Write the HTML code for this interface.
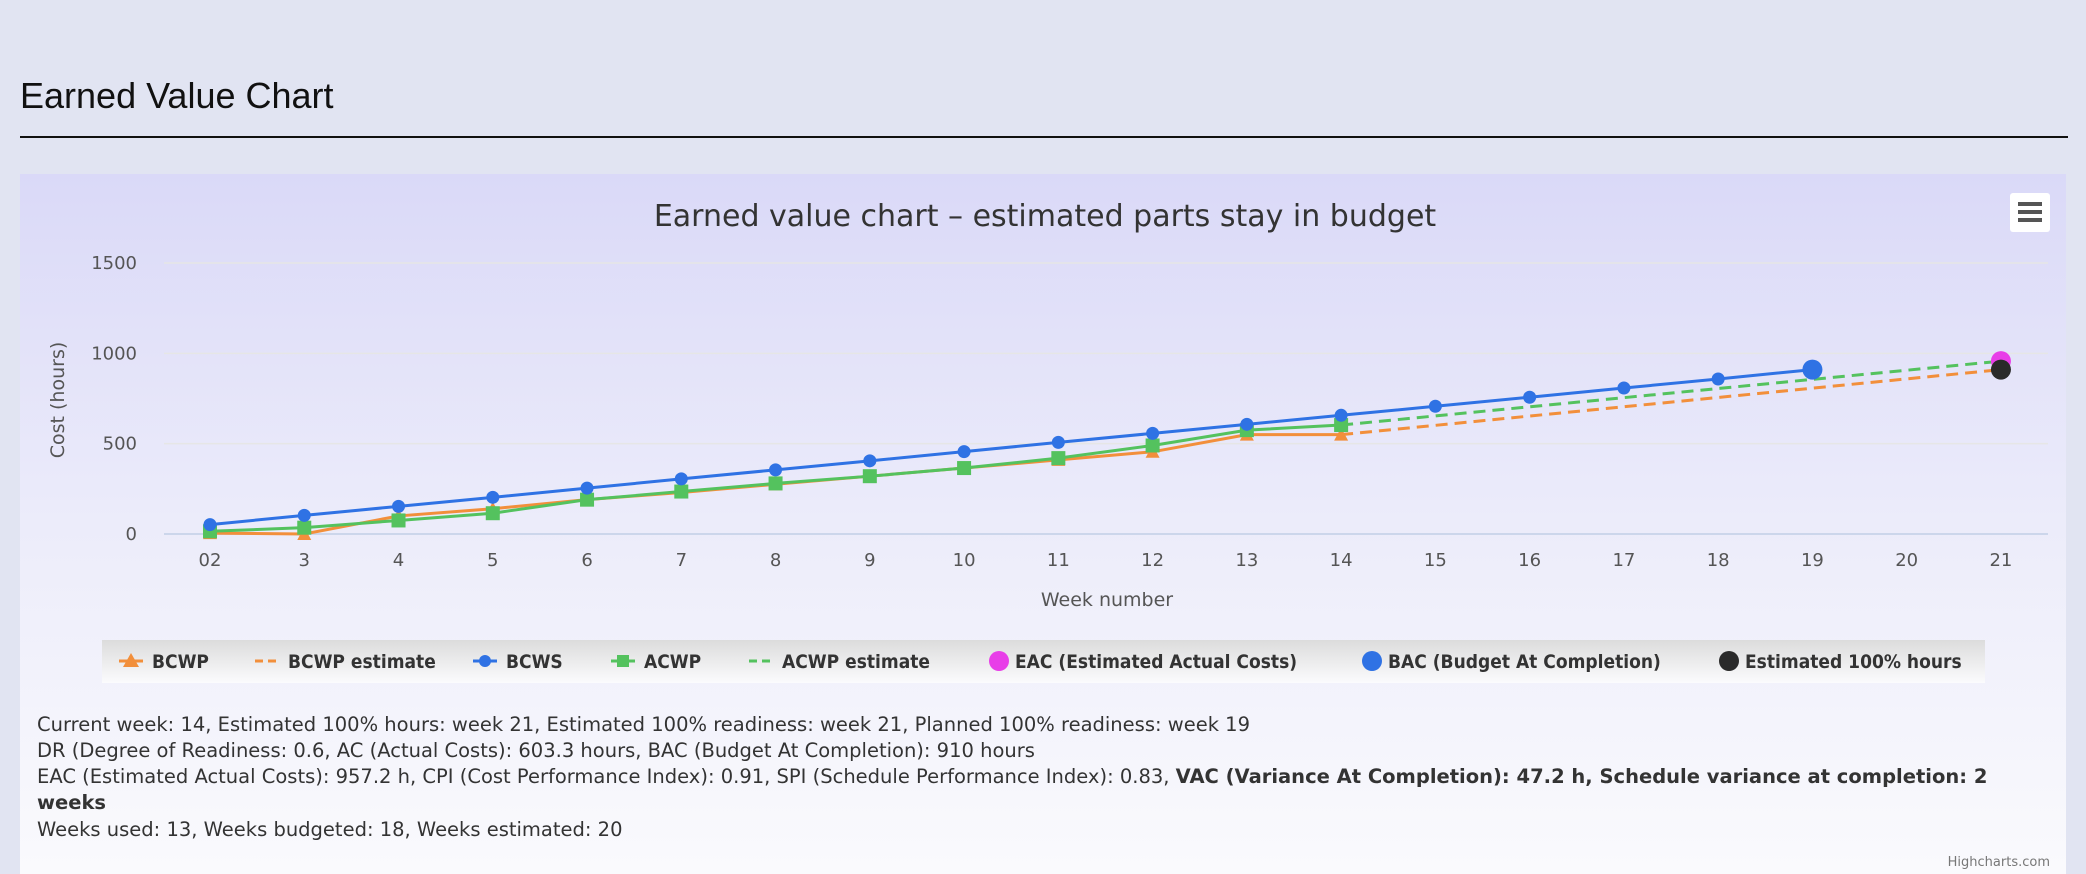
<!DOCTYPE html>
<html><head><meta charset="utf-8">
<style>
html,body{margin:0;padding:0;width:2086px;height:874px;overflow:hidden;background:#e1e4f2;}
svg{display:block;}
.c{font-family:"DejaVu Sans","Liberation Sans",sans-serif;}
.n{font-family:"DejaVu Sans Condensed","DejaVu Sans",sans-serif;font-stretch:condensed;}
</style></head><body>
<svg id="chart" width="2086" height="874" xmlns="http://www.w3.org/2000/svg">
<defs>
<linearGradient id="bg" x1="0" y1="0" x2="0" y2="1"><stop offset="0" stop-color="#dad9f8"/><stop offset="0.5" stop-color="#ececfa"/><stop offset="1" stop-color="#fafafd"/></linearGradient>
<linearGradient id="lg" x1="0" y1="0" x2="0" y2="1"><stop offset="0" stop-color="#dcdcdc"/><stop offset="1" stop-color="#fbfbfd"/></linearGradient>
</defs>
<text x="20" y="108" font-family="Liberation Sans, sans-serif" font-size="36" fill="#111">Earned Value Chart</text>
<rect x="20" y="136" width="2048" height="2" fill="#111"/>
<rect x="20" y="174" width="2046" height="700" fill="url(#bg)"/>
<text class="c" x="1045" y="226" text-anchor="middle" font-size="30" fill="#333">Earned value chart – estimated parts stay in budget</text>
<g>
<rect x="2010" y="193" width="40" height="39" rx="3" fill="#fff"/>
<rect x="2018" y="202" width="24" height="4" fill="#555"/><rect x="2018" y="210" width="24" height="4" fill="#555"/><rect x="2018" y="218" width="24" height="4" fill="#555"/>
</g>
<g id="grid"></g>
<g id="axes"></g>
<g id="series"></g>
<text class="c" x="1107" y="606" text-anchor="middle" font-size="19" fill="#555">Week number</text>
<text class="c" transform="translate(64,400) rotate(-90)" text-anchor="middle" font-size="19" fill="#555">Cost (hours)</text>
<rect x="102" y="640" width="1883" height="43" fill="url(#lg)"/>
<g id="legend"></g>
<g class="c" font-size="19.5" fill="#333">
<text x="37" y="731">Current week: 14, Estimated 100% hours: week 21, Estimated 100% readiness: week 21, Planned 100% readiness: week 19</text>
<text x="37" y="757">DR (Degree of Readiness: 0.6, AC (Actual Costs): 603.3 hours, BAC (Budget At Completion): 910 hours</text>
<text x="37" y="783">EAC (Estimated Actual Costs): 957.2 h, CPI (Cost Performance Index): 0.91, SPI (Schedule Performance Index): 0.83, <tspan font-weight="bold">VAC (Variance At Completion): 47.2 h, Schedule variance at completion: 2</tspan></text>
<text x="37" y="809" font-weight="bold">weeks</text>
<text x="37" y="836">Weeks used: 13, Weeks budgeted: 18, Weeks estimated: 20</text>
</g>
<text class="c" x="2050" y="866" text-anchor="end" font-size="13" fill="#777">Highcharts.com</text>
</svg>
<script>
const categories = ["02","3","4","5","6","7","8","9","10","11","12","13","14","15","16","17","18","19","20","21"];
const yTicks = [0,500,1000,1500];
const bcwp = [5,0,100,140,190,230,275,320,365,410,455,550,550];
const bcwpEstimate = [[12,550],[19,910]];
const bcws = [52,103,153,203,254,305,355,405,456,507,557,607,657,707,757,808,858,910];
const acwp = [15,35,75,115,190,235,280,320,365,420,490,575,603];
const acwpEstimate = [[12,603],[19,957]];
const eac = [[19,957]];
const bac = [[17,910]];
const est100 = [[19,910]];
const legendNames = ["BCWP","BCWP estimate","BCWS","ACWP","ACWP estimate","EAC (Estimated Actual Costs)","BAC (Budget At Completion)","Estimated 100% hours"];

const NS="http://www.w3.org/2000/svg";
const X0=210, DX=94.26, Y0=534, KY=(534-263)/1500;
const xs=i=>X0+i*DX, ys=v=>Y0-v*KY;
function mk(tag,attrs,parent){const e=document.createElementNS(NS,tag);for(const k in attrs)e.setAttribute(k,attrs[k]);parent.appendChild(e);return e;}
const grid=document.getElementById('grid'), axes=document.getElementById('axes'), ser=document.getElementById('series'), leg=document.getElementById('legend');
yTicks.forEach(t=>{
  const l=mk('line',{x1:164,x2:2048,y1:ys(t),y2:ys(t),stroke:t===0?'#ccd6eb':'#e6e6e6','stroke-width':t===0?2:1.5},grid);
  
  
  const tx=mk('text',{x:137,y:ys(t)+6,'text-anchor':'end','font-size':18,fill:'#555',class:'c'},axes);
  tx.textContent=t;
  
  
});
categories.forEach((c,i)=>{
  const tx=mk('text',{x:xs(i),y:Y0+32,'text-anchor':'middle','font-size':18,fill:'#555',class:'c'},axes);
  tx.textContent=c;
  
  
});
function line(pts,color,dash,name){
  const p=mk('polyline',{points:pts.map(q=>xs(q[0])+','+ys(q[1])).join(' '),fill:'none',stroke:color,'stroke-width':3,'stroke-dasharray':dash||'none'},ser);
  
  
}
function marker(shape,x,y,color,r,name){
  let e;
  if(shape==='circle') e=mk('circle',{cx:x,cy:y,r:r,fill:color},ser);
  else if(shape==='square') e=mk('rect',{x:x-r,y:y-r,width:2*r,height:2*r,fill:color},ser);
  else e=mk('path',{d:`M${x},${y-r-1} L${x+r+1},${y+r} L${x-r-1},${y+r} Z`,fill:color},ser);
  
  
}
const O='#f28f3b',B='#2f72e4',G='#54c25e';
line(bcwpEstimate,O,'12,7','bcwp-estimate-line');
line(acwpEstimate,G,'12,7','acwp-estimate-line');
line(bcwp.map((v,i)=>[i,v]),O,null,'bcwp-line');
bcwp.forEach((v,i)=>marker('tri',xs(i),ys(v),O,6,'bcwp-point'));
line(acwp.map((v,i)=>[i,v]),G,null,'acwp-line');
acwp.forEach((v,i)=>marker('square',xs(i),ys(v),G,7,'acwp-point'));
line(bcws.map((v,i)=>[i,v]),B,null,'bcws-line');
bcws.forEach((v,i)=>marker('circle',xs(i),ys(v),B,6.5,'bcws-point'));
bac.forEach(q=>marker('circle',xs(q[0]),ys(q[1]),B,10,'bac-point'));
eac.forEach(q=>marker('circle',xs(q[0]),ys(q[1]),'#e83ee8',10,'eac-point'));
est100.forEach(q=>marker('circle',xs(q[0]),ys(q[1]),'#2a2a2a',10,'estimated-100-point'));
const lx=[152,288,506,644,782,1015,1388,1745];
const lsym=[['tri',O,false],['none',O,true],['circle',B,false],['square',G,false],['none',G,true],['big','#e83ee8',false],['big',B,false],['big','#2a2a2a',false]];
legendNames.forEach((n,i)=>{
  const g=mk('g',{},leg);
  
  
  const cx=lx[i]-21, cy=661;
  const s=lsym[i];
  if(s[0]==='big'){mk('circle',{cx:cx+5,cy:cy,r:10,fill:s[1]},g);}
  else{
    mk('line',{x1:cx-12,x2:cx+12,y1:cy,y2:cy,stroke:s[1],'stroke-width':3,'stroke-dasharray':s[2]?'8,5':'none'},g);
    if(s[0]==='tri')mk('path',{d:`M${cx},${cy-8} L${cx+8},${cy+6} L${cx-8},${cy+6} Z`,fill:s[1]},g);
    if(s[0]==='circle')mk('circle',{cx:cx,cy:cy,r:6,fill:s[1]},g);
    if(s[0]==='square')mk('rect',{x:cx-6,y:cy-6,width:12,height:12,fill:s[1]},g);
  }
  const t=mk('text',{x:lx[i],y:cy+7,'font-size':19,'font-weight':'bold',fill:'#333',class:'n'},g);
  t.textContent=n;
});
</script>
</body></html>
